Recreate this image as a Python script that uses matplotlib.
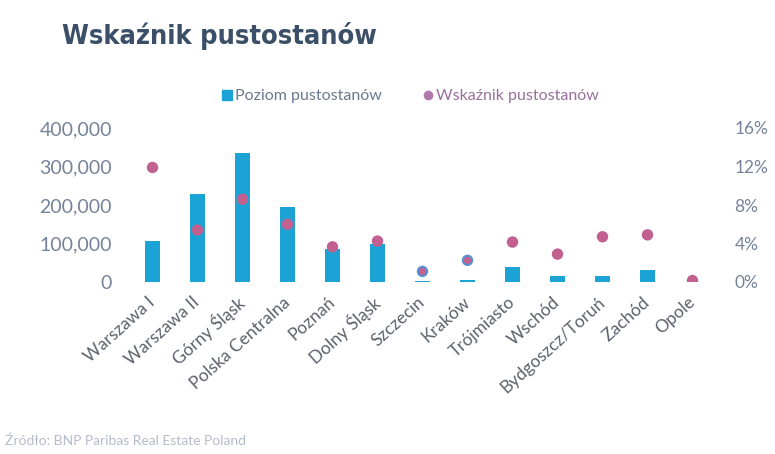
import matplotlib
matplotlib.use("Agg")
import matplotlib.pyplot as plt
from matplotlib import font_manager as fm
from matplotlib.ticker import FuncFormatter, MultipleLocator
from matplotlib.lines import Line2D

categories = ["Warszawa I", "Warszawa II", "Górny Śląsk", "Polska Centralna", "Poznań",
              "Dolny Śląsk", "Szczecin", "Kraków", "Trójmiasto", "Wschód",
              "Bydgoszcz/Toruń", "Zachód", "Opole"]
vacancy_level = [106000, 228000, 336000, 196000, 85000, 100000, 3000, 4000, 39000,
                 15000, 15000, 30000, 0]
vacancy_rate = [11.9, 5.4, 8.6, 6.0, 3.65, 4.25, 1.1, 2.25, 4.15, 2.9, 4.7, 4.9, 0.15]

bar_color = "#1ba3d6"
dot_color = "#c2608f"
label_color = "#75839a"

plt.rcParams['font.family'] = ['Lato', 'DejaVu Sans']

# find a condensed bold font for the title if available
title_font = None
for f in fm.fontManager.ttflist:
    n = (f.name + " " + f.fname).lower()
    if ("condensed" in n or "narrow" in n) and ("bold" in n or f.weight in (600, 700, 'bold')):
        title_font = f.fname
        break

fig = plt.figure(figsize=(7.75, 4.54), dpi=100)
ax = fig.add_axes([130 / 775, 1 - 282 / 454, 585 / 775, 154 / 454])
x = list(range(len(categories)))
ax.bar(x, vacancy_level, width=0.33, color=bar_color, zorder=2)
ax.set_ylim(0, 400000)
ax.set_xlim(-0.5, len(categories) - 0.5)
ax.yaxis.set_major_locator(MultipleLocator(100000))
ax.yaxis.set_major_formatter(FuncFormatter(lambda v, p: f"{int(v):,}"))
ax.tick_params(axis='y', length=0, pad=13, labelsize=14, labelcolor=label_color)
ax.tick_params(axis='x', length=0, pad=13)
ax.set_xticks(x)
ax.set_xticklabels(categories, rotation=42, ha='right', va='center', rotation_mode='anchor',
                   fontsize=12.5, color="#5c616b")
for s in ax.spines.values():
    s.set_visible(False)

ax2 = ax.twinx()
edge = [dot_color] * len(categories)
edge[6] = "#5a8fcf"
edge[7] = "#5a8fcf"
ax2.scatter(x, vacancy_rate, s=45, color=dot_color, edgecolors=edge, linewidths=1.5, zorder=3)
ax2.set_ylim(0, 16)
ax2.yaxis.set_major_locator(MultipleLocator(4))
ax2.yaxis.set_major_formatter(FuncFormatter(lambda v, p: f"{int(v)}%"))
ax2.tick_params(axis='y', length=0, pad=14, labelsize=12.5, labelcolor=label_color)
for s in ax2.spines.values():
    s.set_visible(False)

handles = [Line2D([], [], marker='s', linestyle='none', color=bar_color, markersize=7),
           Line2D([], [], marker='o', linestyle='none', color="#b07aae", markersize=6)]
leg = fig.legend(handles, ["Poziom pustostanów", "Wskaźnik pustostanów"],
                 loc='center', bbox_to_anchor=(410 / 775, 1 - 96 / 454), ncol=2,
                 frameon=False, fontsize=11.5, handletextpad=0.1, columnspacing=2.5,
                 handlelength=0.8)
leg.get_texts()[0].set_color("#6a7890")
leg.get_texts()[1].set_color("#9a6e9e")

if title_font:
    tprops = dict(fontproperties=fm.FontProperties(fname=title_font, size=19.5))
else:
    tprops = dict(fontsize=19.5, fontweight='bold', family=['DejaVu Sans'])
fig.text(62 / 775, 1 - 36 / 454, "Wskaźnik pustostanów", color="#3b5068",
         va='center', ha='left', **tprops)
fig.text(5 / 775, 1 - 441 / 454, "Źródło: BNP Paribas Real Estate Poland", fontsize=10,
         color="#b4bccb", va='center', ha='left')

fig.savefig("out.png", dpi=100, facecolor='white')
